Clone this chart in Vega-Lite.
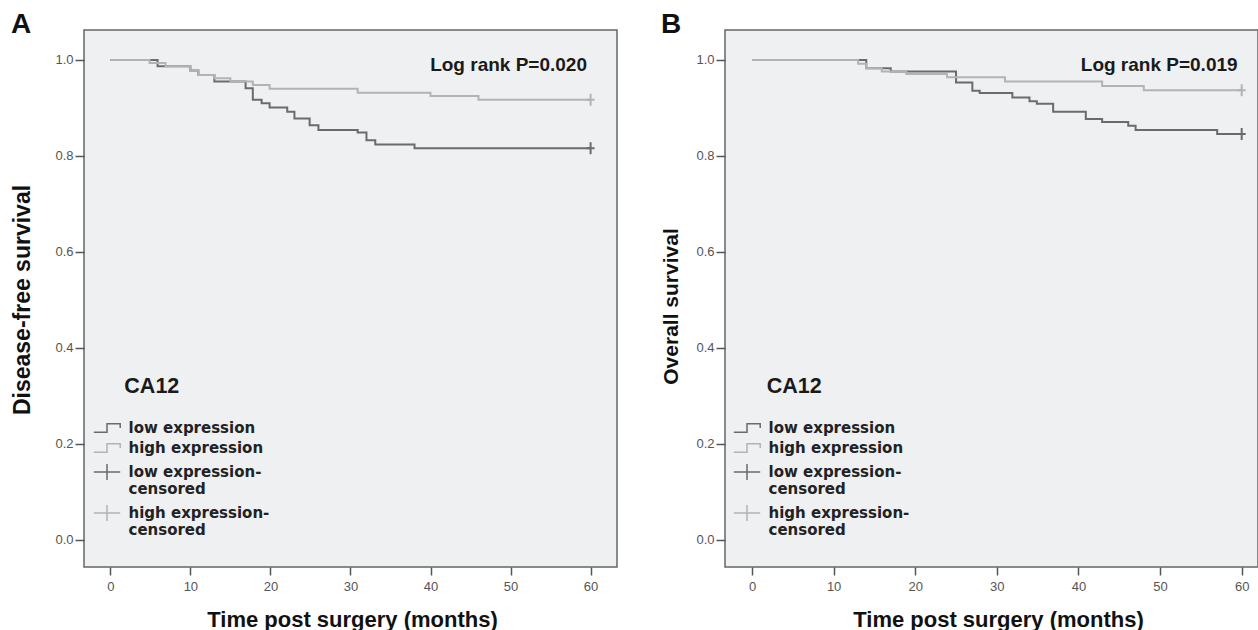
{
  "$schema": "https://vega.github.io/schema/vega-lite/v6.json",
  "padding": {"left": 10, "top": 10, "right": 0, "bottom": 0},
  "background": "white",
  "spacing": 108,
  "bounds": "flush",
  "resolve": {"scale": {"color": "independent", "shape": "independent"}, "legend": {"color": "independent", "shape": "independent"}},
  "datasets": {
    "curves": [
      {"panel": "A", "series": "low expression", "time": 0, "surv": 1.0},
      {"panel": "A", "series": "low expression", "time": 5.9, "surv": 0.987},
      {"panel": "A", "series": "low expression", "time": 10, "surv": 0.978},
      {"panel": "A", "series": "low expression", "time": 11, "surv": 0.969},
      {"panel": "A", "series": "low expression", "time": 13, "surv": 0.955},
      {"panel": "A", "series": "low expression", "time": 16.9, "surv": 0.941},
      {"panel": "A", "series": "low expression", "time": 17.8, "surv": 0.917},
      {"panel": "A", "series": "low expression", "time": 18.9, "surv": 0.91},
      {"panel": "A", "series": "low expression", "time": 19.9, "surv": 0.901},
      {"panel": "A", "series": "low expression", "time": 22.1, "surv": 0.892},
      {"panel": "A", "series": "low expression", "time": 23, "surv": 0.878},
      {"panel": "A", "series": "low expression", "time": 24.9, "surv": 0.864},
      {"panel": "A", "series": "low expression", "time": 26, "surv": 0.854},
      {"panel": "A", "series": "low expression", "time": 30.9, "surv": 0.849},
      {"panel": "A", "series": "low expression", "time": 32, "surv": 0.833},
      {"panel": "A", "series": "low expression", "time": 33.1, "surv": 0.824},
      {"panel": "A", "series": "low expression", "time": 38, "surv": 0.816},
      {"panel": "A", "series": "low expression", "time": 60, "surv": 0.816},
      {"panel": "A", "series": "high expression", "time": 0, "surv": 1.0},
      {"panel": "A", "series": "high expression", "time": 4.9, "surv": 0.994},
      {"panel": "A", "series": "high expression", "time": 6.9, "surv": 0.987},
      {"panel": "A", "series": "high expression", "time": 10, "surv": 0.978},
      {"panel": "A", "series": "high expression", "time": 11, "surv": 0.969},
      {"panel": "A", "series": "high expression", "time": 13, "surv": 0.962},
      {"panel": "A", "series": "high expression", "time": 15, "surv": 0.955},
      {"panel": "A", "series": "high expression", "time": 17.8, "surv": 0.948},
      {"panel": "A", "series": "high expression", "time": 19.9, "surv": 0.94},
      {"panel": "A", "series": "high expression", "time": 30.9, "surv": 0.932},
      {"panel": "A", "series": "high expression", "time": 40, "surv": 0.925},
      {"panel": "A", "series": "high expression", "time": 46, "surv": 0.917},
      {"panel": "A", "series": "high expression", "time": 60, "surv": 0.917},
      {"panel": "B", "series": "low expression", "time": 0, "surv": 1.0},
      {"panel": "B", "series": "low expression", "time": 14, "surv": 0.983},
      {"panel": "B", "series": "low expression", "time": 17, "surv": 0.976},
      {"panel": "B", "series": "low expression", "time": 25, "surv": 0.953},
      {"panel": "B", "series": "low expression", "time": 27, "surv": 0.936},
      {"panel": "B", "series": "low expression", "time": 27.9, "surv": 0.931},
      {"panel": "B", "series": "low expression", "time": 31.9, "surv": 0.922},
      {"panel": "B", "series": "low expression", "time": 34, "surv": 0.914},
      {"panel": "B", "series": "low expression", "time": 34.9, "surv": 0.909},
      {"panel": "B", "series": "low expression", "time": 36.9, "surv": 0.892},
      {"panel": "B", "series": "low expression", "time": 40.9, "surv": 0.877},
      {"panel": "B", "series": "low expression", "time": 42.9, "surv": 0.871},
      {"panel": "B", "series": "low expression", "time": 46.1, "surv": 0.863},
      {"panel": "B", "series": "low expression", "time": 47, "surv": 0.854},
      {"panel": "B", "series": "low expression", "time": 57, "surv": 0.846},
      {"panel": "B", "series": "low expression", "time": 60, "surv": 0.846},
      {"panel": "B", "series": "high expression", "time": 0, "surv": 1.0},
      {"panel": "B", "series": "high expression", "time": 13, "surv": 0.992},
      {"panel": "B", "series": "high expression", "time": 14, "surv": 0.983},
      {"panel": "B", "series": "high expression", "time": 15.9, "surv": 0.976},
      {"panel": "B", "series": "high expression", "time": 18.9, "surv": 0.971},
      {"panel": "B", "series": "high expression", "time": 23.9, "surv": 0.964},
      {"panel": "B", "series": "high expression", "time": 31, "surv": 0.955},
      {"panel": "B", "series": "high expression", "time": 42.9, "surv": 0.946},
      {"panel": "B", "series": "high expression", "time": 48, "surv": 0.937},
      {"panel": "B", "series": "high expression", "time": 60, "surv": 0.937}
    ],
    "censor": [
      {"panel": "A", "series": "low expression", "time": 60, "surv": 0.816},
      {"panel": "A", "series": "high expression", "time": 60, "surv": 0.917},
      {"panel": "B", "series": "low expression", "time": 60, "surv": 0.846},
      {"panel": "B", "series": "high expression", "time": 60, "surv": 0.937}
    ],
    "notes": [
      {"panel": "A", "kind": "test", "note": "Log rank P=0.020"},
      {"panel": "A", "kind": "group", "note": "CA12"},
      {"panel": "B", "kind": "test", "note": "Log rank P=0.019"},
      {"panel": "B", "kind": "group", "note": "CA12"}
    ]
  },
  "hconcat": [
    {
      "width": 533,
      "height": 537,
      "title": {"text": "A", "anchor": "start", "frame": "group", "orient": "top", "offset": -27.5, "dx": -73, "dy": 3.5, "baseline": "alphabetic", "font": "Liberation Sans", "fontSize": 28, "fontWeight": "bold", "color": "#111111"},
      "layer": [
        {
          "data": {"name": "censor"},
          "transform": [{"filter": "false"}],
          "mark": {"type": "point", "filled": false, "opacity": 1},
          "encoding": {
            "x": {"field": "time", "type": "quantitative"},
            "y": {"field": "surv", "type": "quantitative"},
            "color": {"field": "series", "type": "nominal", "scale": {"domain": ["low expression", "high expression", "low expression-censored", "high expression-censored"], "range": ["#6b6b6b", "#b3b3b3", "#6b6b6b", "#b3b3b3"]},
              "legend": {"title": null, "orient": "none", "legendX": 15.5, "legendY": 390.5, "direction": "vertical", "padding": 0, "symbolSize": 144, "symbolStrokeWidth": 1.5, "labelOffset": 14, "rowPadding": 4, "labelFont": "DejaVu Sans", "labelFontSize": 15, "labelFontWeight": "bold", "labelColor": "#222222", "labelLimit": 300, "labelExpr": "indexof(datum.label, 'censored') > 0 ? [replace(datum.label, 'censored', ''), 'censored'] : datum.label"}},
            "shape": {"field": "series", "type": "nominal", "scale": {"domain": ["low expression", "high expression", "low expression-censored", "high expression-censored"], "range": ["M-2.2,0.7L0,0.7L0,-0.7L2.2,-0.7L2.2,0", "M-2.2,0.7L0,0.7L0,-0.7L2.2,-0.7L2.2,0", "M-2.2,0L2.2,0M0,-1.35L0,1.35", "M-2.2,0L2.2,0M0,-1.35L0,1.35"]},
              "legend": {"title": null, "orient": "none", "legendX": 15.5, "legendY": 390.5, "direction": "vertical", "padding": 0, "symbolSize": 144, "symbolStrokeWidth": 1.5, "labelOffset": 14, "rowPadding": 4, "labelFont": "DejaVu Sans", "labelFontSize": 15, "labelFontWeight": "bold", "labelColor": "#222222", "labelLimit": 300, "labelExpr": "indexof(datum.label, 'censored') > 0 ? [replace(datum.label, 'censored', ''), 'censored'] : datum.label"}}
          }
        },
        {
          "data": {"name": "curves"},
          "transform": [{"filter": "datum.panel == 'A'"}],
          "mark": {"type": "line", "interpolate": "step-after", "strokeWidth": 2},
          "encoding": {
            "x": {"field": "time", "type": "quantitative", "scale": {"domain": [-3.29, 63.3], "nice": false, "zero": false}, "axis": {"title": "Time post surgery (months)", "values": [0, 10, 20, 30, 40, 50, 60], "format": "d", "titleX": 268}},
            "y": {"field": "surv", "type": "quantitative", "scale": {"domain": [-0.0563, 1.0625], "nice": false, "zero": false}, "axis": {"title": "Disease-free survival", "values": [0, 0.2, 0.4, 0.6, 0.8, 1.0], "format": ".1f", "titleX": -54.7, "titleY": 269.5, "titleFontSize": 23}},
            "color": {"field": "series", "type": "nominal", "scale": {"domain": ["low expression", "high expression", "low expression-censored", "high expression-censored"], "range": ["#6b6b6b", "#b3b3b3", "#6b6b6b", "#b3b3b3"]}},
            "detail": {"field": "series"}
          }
        },
        {
          "data": {"name": "censor"},
          "transform": [{"filter": "datum.panel == 'A'"}],
          "mark": {"type": "point", "shape": "M-1,0L1,0M0,-1.5L0,1.5", "size": 64, "strokeWidth": 2, "filled": false, "opacity": 1},
          "encoding": {
            "x": {"field": "time", "type": "quantitative"},
            "y": {"field": "surv", "type": "quantitative"},
            "color": {"field": "series", "type": "nominal", "scale": {"domain": ["low expression", "high expression", "low expression-censored", "high expression-censored"], "range": ["#6b6b6b", "#b3b3b3", "#6b6b6b", "#b3b3b3"]}}
          }
        },
        {
          "data": {"name": "notes"},
          "transform": [{"filter": "datum.panel == 'A' && datum.kind == 'test'"}],
          "mark": {"type": "text", "align": "right", "baseline": "alphabetic", "font": "Liberation Sans", "fontSize": 19, "fontWeight": "bold", "color": "#1a1a1a"},
          "encoding": {"x": {"datum": 59.55}, "y": {"datum": 0.977}, "text": {"field": "note"}}
        },
        {
          "data": {"name": "notes"},
          "transform": [{"filter": "datum.panel == 'A' && datum.kind == 'group'"}],
          "mark": {"type": "text", "align": "left", "baseline": "alphabetic", "font": "Liberation Sans", "fontSize": 21.5, "fontWeight": "bold", "color": "#1a1a1a"},
          "encoding": {"x": {"datum": 1.75}, "y": {"datum": 0.3056}, "text": {"field": "note"}}
        }
      ]
    },
    {
      "width": 533,
      "height": 537,
      "title": {"text": "B", "anchor": "start", "frame": "group", "orient": "top", "offset": -27.5, "dx": -64, "dy": 3.5, "baseline": "alphabetic", "font": "Liberation Sans", "fontSize": 28, "fontWeight": "bold", "color": "#111111"},
      "layer": [
        {
          "data": {"name": "censor"},
          "transform": [{"filter": "false"}],
          "mark": {"type": "point", "filled": false, "opacity": 1},
          "encoding": {
            "x": {"field": "time", "type": "quantitative"},
            "y": {"field": "surv", "type": "quantitative"},
            "color": {"field": "series", "type": "nominal", "scale": {"domain": ["low expression", "high expression", "low expression-censored", "high expression-censored"], "range": ["#6b6b6b", "#b3b3b3", "#6b6b6b", "#b3b3b3"]},
              "legend": {"title": null, "orient": "none", "legendX": 14.5, "legendY": 390.5, "direction": "vertical", "padding": 0, "symbolSize": 144, "symbolStrokeWidth": 1.5, "labelOffset": 14, "rowPadding": 4, "labelFont": "DejaVu Sans", "labelFontSize": 15, "labelFontWeight": "bold", "labelColor": "#222222", "labelLimit": 300, "labelExpr": "indexof(datum.label, 'censored') > 0 ? [replace(datum.label, 'censored', ''), 'censored'] : datum.label"}},
            "shape": {"field": "series", "type": "nominal", "scale": {"domain": ["low expression", "high expression", "low expression-censored", "high expression-censored"], "range": ["M-2.2,0.7L0,0.7L0,-0.7L2.2,-0.7L2.2,0", "M-2.2,0.7L0,0.7L0,-0.7L2.2,-0.7L2.2,0", "M-2.2,0L2.2,0M0,-1.35L0,1.35", "M-2.2,0L2.2,0M0,-1.35L0,1.35"]},
              "legend": {"title": null, "orient": "none", "legendX": 14.5, "legendY": 390.5, "direction": "vertical", "padding": 0, "symbolSize": 144, "symbolStrokeWidth": 1.5, "labelOffset": 14, "rowPadding": 4, "labelFont": "DejaVu Sans", "labelFontSize": 15, "labelFontWeight": "bold", "labelColor": "#222222", "labelLimit": 300, "labelExpr": "indexof(datum.label, 'censored') > 0 ? [replace(datum.label, 'censored', ''), 'censored'] : datum.label"}}
          }
        },
        {
          "data": {"name": "curves"},
          "transform": [{"filter": "datum.panel == 'B'"}],
          "mark": {"type": "line", "interpolate": "step-after", "strokeWidth": 2},
          "encoding": {
            "x": {"field": "time", "type": "quantitative", "scale": {"domain": [-3.31, 62.0], "nice": false, "zero": false}, "axis": {"title": "Time post surgery (months)", "values": [0, 10, 20, 30, 40, 50, 60], "format": "d", "titleX": 273}},
            "y": {"field": "surv", "type": "quantitative", "scale": {"domain": [-0.0563, 1.0625], "nice": false, "zero": false}, "axis": {"title": "Overall survival", "values": [0, 0.2, 0.4, 0.6, 0.8, 1.0], "format": ".1f", "titleX": -47.3, "titleY": 276, "titleFontSize": 21}},
            "color": {"field": "series", "type": "nominal", "scale": {"domain": ["low expression", "high expression", "low expression-censored", "high expression-censored"], "range": ["#6b6b6b", "#b3b3b3", "#6b6b6b", "#b3b3b3"]}},
            "detail": {"field": "series"}
          }
        },
        {
          "data": {"name": "censor"},
          "transform": [{"filter": "datum.panel == 'B'"}],
          "mark": {"type": "point", "shape": "M-1,0L1,0M0,-1.5L0,1.5", "size": 64, "strokeWidth": 2, "filled": false, "opacity": 1},
          "encoding": {
            "x": {"field": "time", "type": "quantitative"},
            "y": {"field": "surv", "type": "quantitative"},
            "color": {"field": "series", "type": "nominal", "scale": {"domain": ["low expression", "high expression", "low expression-censored", "high expression-censored"], "range": ["#6b6b6b", "#b3b3b3", "#6b6b6b", "#b3b3b3"]}}
          }
        },
        {
          "data": {"name": "notes"},
          "transform": [{"filter": "datum.panel == 'B' && datum.kind == 'test'"}],
          "mark": {"type": "text", "align": "right", "baseline": "alphabetic", "font": "Liberation Sans", "fontSize": 19, "fontWeight": "bold", "color": "#1a1a1a"},
          "encoding": {"x": {"datum": 59.5}, "y": {"datum": 0.977}, "text": {"field": "note"}}
        },
        {
          "data": {"name": "notes"},
          "transform": [{"filter": "datum.panel == 'B' && datum.kind == 'group'"}],
          "mark": {"type": "text", "align": "left", "baseline": "alphabetic", "font": "Liberation Sans", "fontSize": 21.5, "fontWeight": "bold", "color": "#1a1a1a"},
          "encoding": {"x": {"datum": 1.8}, "y": {"datum": 0.3056}, "text": {"field": "note"}}
        }
      ]
    }
  ],
  "config": {
    "view": {"fill": "#eff0f2", "stroke": "#666666", "strokeWidth": 1.5},
    "axis": {"grid": false, "domain": false, "labelFont": "Liberation Sans", "labelFontSize": 13, "labelColor": "#555555", "tickColor": "#555555", "tickWidth": 1.5, "titleFont": "Liberation Sans", "titleFontSize": 22, "titleFontWeight": "bold", "titleColor": "#111111"},
    "axisX": {"tickSize": 8, "labelPadding": 5, "titleBaseline": "alphabetic", "titleY": 59},
    "axisY": {"tickSize": 9, "labelPadding": 2, "titleBaseline": "alphabetic", "titleAngle": 270}
  }
}
